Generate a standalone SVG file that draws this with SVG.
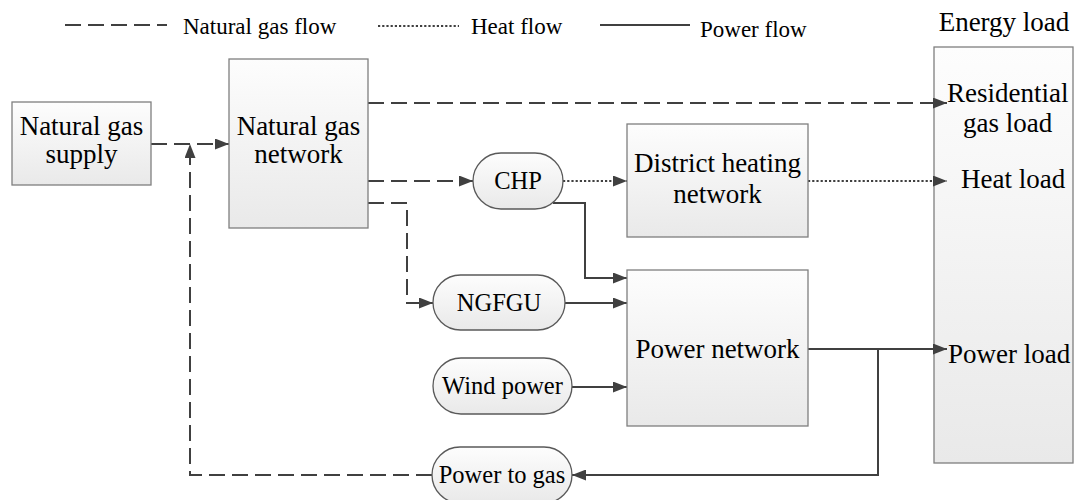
<svg xmlns="http://www.w3.org/2000/svg" width="1077" height="500" viewBox="0 0 1077 500" font-family="'Liberation Serif', 'Times New Roman', 'DejaVu Serif', serif">
<style>
.box{fill:url(#g);stroke:#7f7f7f;stroke-width:1.3}
.pill{fill:url(#g);stroke:#595959;stroke-width:1.3}
text{font-family:'Liberation Serif','Times New Roman','DejaVu Serif',serif;fill:#000}
.big{font-size:27px}
.mid{font-size:24.5px}
.leg{font-size:23px}
.c{text-anchor:middle}
.ln{fill:none;stroke:#404040;stroke-width:2}
.gas{stroke-dasharray:16 7}
.heat{stroke-dasharray:2.2 2}
</style>
<defs>
<linearGradient id="g" x1="0" y1="0" x2="0" y2="1">
<stop offset="0" stop-color="#fdfdfd"/>
<stop offset="1" stop-color="#e9e9e9"/>
</linearGradient>
<marker id="a" markerUnits="userSpaceOnUse" markerWidth="14" markerHeight="11" refX="14" refY="5.5" orient="auto">
<path d="M0,0 L14,5.5 L0,11 z" fill="#404040"/>
</marker>
</defs>
<g id="load">
<text class="big c" x="1004" y="31">Energy load</text>
<rect class="box" x="934" y="47" width="139" height="416"/>
<text class="big" x="947" y="102">Residential</text>
<text class="big" x="963" y="132">gas load</text>
<text class="big" x="961" y="188">Heat load</text>
<text class="big" x="948" y="363">Power load</text>
</g>
<g id="legend">
<line class="ln gas" x1="65" y1="25" x2="167" y2="25"/>
<text class="leg" x="183" y="34">Natural gas flow</text>
<line class="ln heat" x1="378" y1="26" x2="459" y2="26"/>
<text class="leg" x="471" y="34">Heat flow</text>
<line class="ln" x1="600" y1="25" x2="690" y2="25"/>
<text class="leg" x="700" y="37">Power flow</text>
</g>
<g id="connectors">
<path class="ln gas" d="M151,144 H229" marker-end="url(#a)"/>
<path class="ln gas" d="M432,475 H190 V144" marker-end="url(#a)"/>
<path class="ln gas" d="M368,103 H947" marker-end="url(#a)"/>
<path class="ln gas" d="M368,181 H473" marker-end="url(#a)"/>
<path class="ln gas" d="M368,203 H407 V303 H433" marker-end="url(#a)"/>
<path class="ln heat" d="M563,181 H627" marker-end="url(#a)"/>
<path class="ln heat" d="M808,181 H947" marker-end="url(#a)"/>
<path class="ln" d="M553,203 H585 V278 H627" marker-end="url(#a)"/>
<path class="ln" d="M565,303 H627" marker-end="url(#a)"/>
<path class="ln" d="M572,387 H627" marker-end="url(#a)"/>
<path class="ln" d="M808,349 H947" marker-end="url(#a)"/>
<path class="ln" d="M878,349 V475 H572" marker-end="url(#a)"/>
</g>
<g id="supply">
<rect class="box" x="12" y="102" width="139" height="83"/>
<text class="big c" x="81.5" y="135">Natural gas</text>
<text class="big c" x="81.5" y="163">supply</text>
</g>
<g id="gasnet">
<rect class="box" x="229" y="59" width="139" height="169"/>
<text class="big c" x="298.5" y="135">Natural gas</text>
<text class="big c" x="298.5" y="163">network</text>
</g>
<g id="chp">
<rect class="pill" x="473" y="153" width="90" height="56" rx="28"/>
<text class="mid c" x="518" y="189">CHP</text>
</g>
<g id="dhn">
<rect class="box" x="627" y="124" width="181" height="113"/>
<text class="big c" x="717.5" y="172">District heating</text>
<text class="big c" x="717.5" y="203">network</text>
</g>
<g id="ngfgu">
<rect class="pill" x="433" y="275" width="132" height="55" rx="27.5"/>
<text class="mid c" x="499" y="311">NGFGU</text>
</g>
<g id="wind">
<rect class="pill" x="433" y="358" width="139" height="56" rx="28"/>
<text class="mid c" x="502.5" y="394">Wind power</text>
</g>
<g id="p2g">
<rect class="pill" x="432" y="447" width="140" height="56" rx="28"/>
<text class="mid c" x="502" y="483">Power to gas</text>
</g>
<g id="pnet">
<rect class="box" x="627" y="270" width="181" height="156"/>
<text class="big c" x="717.5" y="358">Power network</text>
</g>
</svg>
